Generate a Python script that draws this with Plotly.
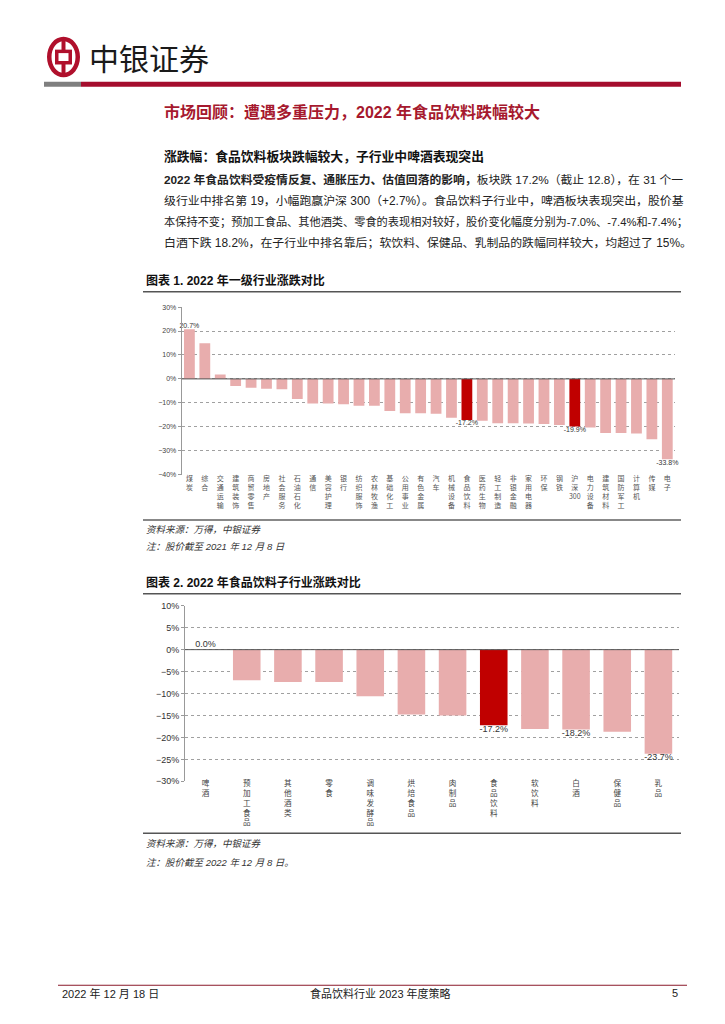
import plotly.graph_objects as go

# page is 725x1024; browser body margin is 8px, so the figure is 709x1008 placed at (8,8)
OFF = 8
W, H = 725 - 2 * OFF, 1024 - 2 * OFF
def X(px): return (px - OFF) / W
def Y(py): return 1 - (py - OFF) / H

# ---------------- data ----------------
cats1 = ["煤炭", "综合", "交通运输", "建筑装饰", "商贸零售", "房地产", "社会服务", "石油石化",
         "通信", "美容护理", "银行", "纺织服饰", "农林牧渔", "基础化工", "公用事业", "有色金属",
         "汽车", "机械设备", "食品饮料", "医药生物", "轻工制造", "非银金融", "家用电器", "环保",
         "钢铁", "沪深300", "电力设备", "建筑材料", "国防军工", "计算机", "传媒", "电子"]
vals1 = [20.7, 14.9, 1.8, -3.0, -3.7, -4.1, -4.3, -8.4,
         -10.3, -10.3, -10.6, -11.2, -11.2, -13.4, -14.3, -14.3,
         -14.6, -16.2, -17.2, -17.5, -18.5, -18.5, -18.6, -18.8,
         -19.3, -19.9, -20.3, -22.6, -22.6, -22.8, -25.2, -33.6]
hl1 = ["食品饮料", "沪深300"]
lab1_cats = ["煤炭", "食品饮料", "沪深300", "电子"]
lab1_vals = [20.7, -17.2, -19.9, -33.6]
lab1_text = ["20.7%", "-17.2%", "-19.9%", "-33.8%"]

cats2 = ["啤酒", "预加工食品", "其他酒类", "零食", "调味发酵品", "烘焙食品", "肉制品",
         "食品饮料", "软饮料", "白酒", "保健品", "乳品"]
vals2 = [0.0, -7.0, -7.4, -7.4, -10.6, -14.8, -15.0, -17.2, -18.1, -18.2, -18.7, -23.7]
hl2 = ["食品饮料"]
lab2_cats = ["啤酒", "食品饮料", "白酒", "乳品"]
lab2_vals = [0.0, -17.2, -18.2, -23.7]
lab2_text = ["0.0%", "-17.2%", "-18.2%", "-23.7%"]

PINK = "#e8adad"
RED = "#c00000"
FONT = "Liberation Sans, Noto Sans CJK SC, sans-serif"
CJK = "Noto Sans CJK SC, sans-serif"

def stack(s):
    if s == "沪深300":
        return "沪<br>深<br>300"
    return "<br>".join(list(s))

fig = go.Figure()

fig.add_trace(go.Bar(x=cats1, y=vals1, width=0.7,
                     marker=dict(color=[RED if c in hl1 else PINK for c in cats1], line=dict(width=0)),
                     xaxis="x", yaxis="y", showlegend=False))
fig.add_trace(go.Scatter(x=lab1_cats, y=lab1_vals, text=lab1_text, mode="text",
                         textposition=["top center" if v > 0 else "bottom center" for v in lab1_vals],
                         textfont=dict(size=7, color="#333", family=FONT),
                         xaxis="x", yaxis="y", showlegend=False, cliponaxis=False))

fig.add_trace(go.Bar(x=cats2, y=vals2, width=0.67,
                     marker=dict(color=[RED if c in hl2 else PINK for c in cats2], line=dict(width=0)),
                     xaxis="x2", yaxis="y2", showlegend=False))
fig.add_trace(go.Scatter(x=lab2_cats, y=lab2_vals, text=lab2_text, mode="text",
                         textposition=["top center" if v >= 0 else "bottom center" for v in lab2_vals],
                         textfont=dict(size=9, color="#333", family=FONT),
                         xaxis="x2", yaxis="y2", showlegend=False, cliponaxis=False))

axis_common = dict(showgrid=False, zeroline=False, showline=False, ticks="", fixedrange=True)

fig.update_layout(
    width=W, height=H, margin=dict(l=0, r=0, t=0, b=0),
    paper_bgcolor="white", plot_bgcolor="white",
    font=dict(family=FONT, color="#333"),
    xaxis=dict(domain=[X(181.7), X(675)], anchor="y", type="category",
               range=[-0.5, len(cats1) - 0.5],
               tickmode="array", tickvals=cats1, ticktext=[stack(c) for c in cats1],
               tickangle=0, ticklabelstandoff=-2,
               tickfont=dict(size=7, color="#555", family=CJK), **axis_common),
    yaxis=dict(domain=[Y(474.3), Y(305)], anchor="x", range=[-40, 30], dtick=10,
               ticksuffix="%", tickfont=dict(size=7, color="#444"),
               showgrid=True, gridcolor="#a0a0a0", griddash="dot", gridwidth=1,
               showline=True, linecolor="#999", linewidth=1, ticks="outside", ticklen=3,
               tickcolor="#999", zeroline=False, fixedrange=True),
    xaxis2=dict(domain=[X(185), X(679)], anchor="y2", type="category",
                range=[-0.5, len(cats2) - 0.5],
                tickmode="array", tickvals=cats2, ticktext=[stack(c) for c in cats2],
                tickangle=0, ticklabelstandoff=-4,
                tickfont=dict(size=7.6, color="#444", family=CJK), **axis_common),
    yaxis2=dict(domain=[Y(784), Y(606.7)], anchor="x2", range=[-30, 10], dtick=5,
                ticksuffix="%", tickfont=dict(size=9, color="#333"),
                showgrid=True, gridcolor="#a0a0a0", griddash="dot", gridwidth=1,
                showline=True, linecolor="#999", linewidth=1, ticks="outside", ticklen=3,
                tickcolor="#999", zeroline=False, fixedrange=True),
)

shapes = []
# zero lines
shapes.append(dict(type="line", xref="x domain", yref="y", x0=0, x1=1, y0=0, y1=0,
                   line=dict(color="#555", width=1)))
shapes.append(dict(type="line", xref="x2 domain", yref="y2", x0=0, x1=1, y0=0, y1=0,
                   line=dict(color="#555", width=1)))

def hline(y, x0, x1, color, width):
    shapes.append(dict(type="line", xref="paper", yref="paper", x0=X(x0), x1=X(x1),
                       y0=Y(y), y1=Y(y), line=dict(color=color, width=width)))

def rect(x0, y0, x1, y1, color, kind="rect"):
    shapes.append(dict(type=kind, xref="paper", yref="paper", x0=X(x0), x1=X(x1),
                       y0=Y(y1), y1=Y(y0), fillcolor=color, line=dict(width=0)))

# header bar
rect(44, 77.5, 81, 82.5, "#7f7f7f")
rect(81, 77.5, 681, 82.5, "#a50d2d")
# logo
rect(47, 32, 80, 73, "#b0102c", "circle")
rect(51.5, 36.5, 75.5, 68.5, "white", "circle")
rect(61.5, 33, 65.5, 72, "#b0102c")
rect(55, 45, 72, 60, "#b0102c")
rect(58.5, 48.5, 68.5, 56.5, "white")
# chart frames
hline(289.5, 143, 681, "#555", 1.5)
hline(520, 143, 681, "#888", 2)
hline(594.5, 143, 681, "#555", 1.5)
hline(836.5, 143, 681, "#555", 1.5)
# footer
hline(990, 58, 687, "#8b1a2b", 1)
fig.update_layout(shapes=shapes)

ann = []
def txt(x, y, s, size, color="#222", bold=False, italic=False, xanchor="left", family=FONT):
    if bold:
        s = "<b>" + s + "</b>"
    if italic:
        s = "<i>" + s + "</i>"
    ann.append(dict(x=X(x), y=Y(y), xref="paper", yref="paper", text=s, showarrow=False,
                    xanchor=xanchor, yanchor="middle", font=dict(size=size, color=color, family=family)))

txt(87, 52, "中银证券", 30, "#1a1a1a", family=CJK)
txt(162, 108, "市场回顾：遭遇多重压力，2022 年食品饮料跌幅较大", 16, "#a6192e", bold=True)
txt(162, 153, "涨跌幅：食品饮料板块跌幅较大，子行业中啤酒表现突出", 12.8, "#111", bold=True)
para = [
    "<b>2022 年食品饮料受疫情反复、通胀压力、估值回落的影响，</b>板块跌 17.2%（截止 12.8），在 31 个一",
    "级行业中排名第 19，小幅跑赢沪深 300（+2.7%）。食品饮料子行业中，啤酒板块表现突出，股价基",
    "本保持不变；预加工食品、其他酒类、零食的表现相对较好，股价变化幅度分别为-7.0%、-7.4%和-7.4%；",
    "白酒下跌 18.2%，在子行业中排名靠后；软饮料、保健品、乳制品的跌幅同样较大，均超过了 15%。",
]
para_sizes = [11.8, 11.9, 11.2, 11.9]
for i, line in enumerate(para):
    txt(162, 177 + i * 21, line, para_sizes[i], "#222")

txt(144, 278, "图表 1. 2022 年一级行业涨跌对比", 12, "#111", bold=True)
txt(144, 530, "资料来源：万得，中银证券", 9.5, "#333", italic=True)
txt(144, 547, "注：股价截至 2021 年 12 月 8 日", 9.5, "#333", italic=True)

txt(144, 583, "图表 2. 2022 年食品饮料子行业涨跌对比", 12, "#111", bold=True)
txt(144, 847, "资料来源：万得，中银证券", 9.5, "#333", italic=True)
txt(144, 866, "注：股价截至 2022 年 12 月 8 日。", 9.5, "#333", italic=True)

txt(60, 998, "2022 年 12 月 18 日", 11, "#222")
txt(380, 998, "食品饮料行业 2023 年度策略", 11, "#222", xanchor="center")
txt(680, 998, "5", 11, "#222", xanchor="right")

fig.update_layout(annotations=ann)
fig.write_html("out.html")
